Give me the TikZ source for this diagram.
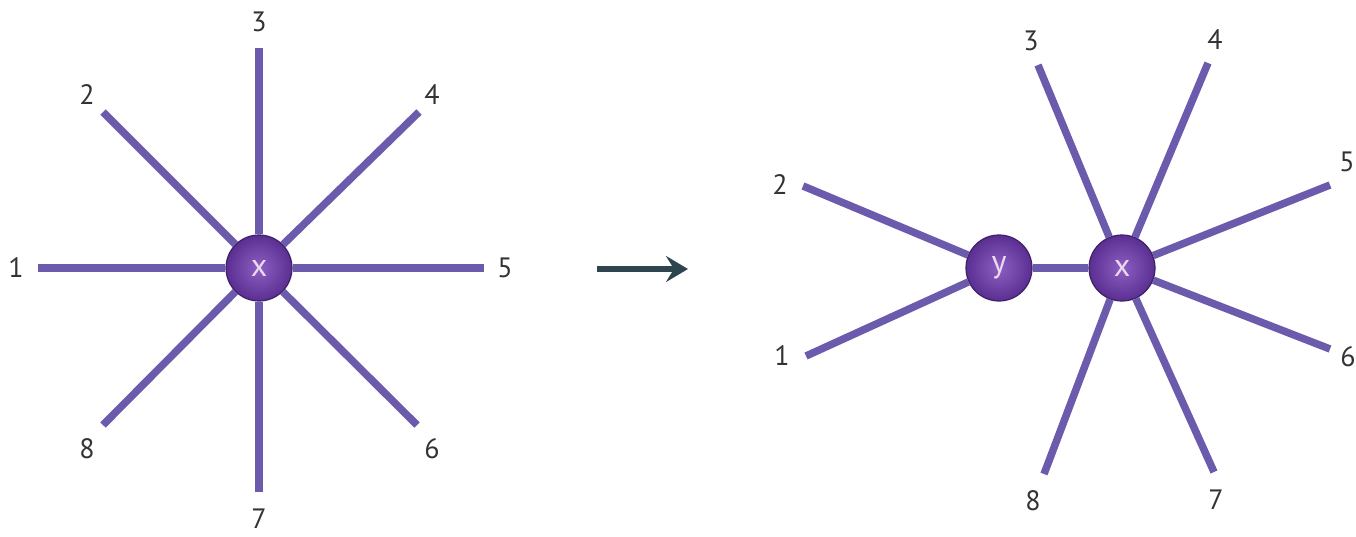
\documentclass[tikz,border=0pt]{standalone}
\usepackage{fontspec}
\setmainfont{PT Sans}
\usetikzlibrary{arrows.meta}
\definecolor{edgec}{HTML}{6C5BAC}
\definecolor{ballin}{HTML}{8C5FC4}
\definecolor{ballout}{HTML}{5B2E91}
\definecolor{balldraw}{HTML}{3E2168}
\definecolor{arrc}{HTML}{2E4550}
\definecolor{txtc}{HTML}{333333}
\tikzset{
  ball/.style={circle, minimum size=66pt, inner sep=0pt, draw=balldraw, line width=1.2pt,
     inner color=ballin, outer color=ballout, text=white!85!violet, font=\fontsize{32}{32}\selectfont},
  edge/.style={draw=edgec, line width=7.5pt},
  lbl/.style={text=txtc, font=\fontsize{28}{28}\selectfont, inner sep=0pt},
}
\begin{document}
\begin{tikzpicture}[x=1pt,y=-1pt]
\useasboundingbox (0,0) rectangle (1356,536);
% left star
\node[ball] (xa) at (259,268) {x};
\coordinate (a1) at (38,268);
\coordinate (a2) at (103,112);
\coordinate (a3) at (259,48);
\coordinate (a4) at (419,112);
\coordinate (a5) at (484,268);
\coordinate (a6) at (417,425);
\coordinate (a7) at (259,492);
\coordinate (a8) at (103,425);
\foreach \i in {1,...,8} \draw[edge] (xa) -- (a\i);
\node[lbl] (la1) at (16,268) {1};
\node[lbl] (la2) at (87,95) {2};
\node[lbl] (la3) at (259,22) {3};
\node[lbl] (la4) at (432,95) {4};
\node[lbl] (la5) at (505,268) {5};
\node[lbl] (la6) at (432,449) {6};
\node[lbl] (la7) at (259,519) {7};
\node[lbl] (la8) at (87,449) {8};
% arrow
\coordinate (ars) at (597,269);
\coordinate (are) at (688,269);
\draw[arrc, line width=6pt, -{Stealth[length=22pt,width=26pt,inset=8pt]}] (ars) -- (are);
% right
\node[ball] (yb) at (999,268) {y};
\node[ball] (xb) at (1122,268) {x};
\draw[edge] (yb) -- (xb);
\coordinate (b1) at (806,356);
\coordinate (b2) at (803,186);
\coordinate (b3) at (1038,65);
\coordinate (b4) at (1208,63);
\coordinate (b5) at (1330,185);
\coordinate (b6) at (1330,349);
\coordinate (b7) at (1214,472);
\coordinate (b8) at (1044,474);
\draw[edge] (yb) -- (b1);
\draw[edge] (yb) -- (b2);
\foreach \i in {3,...,8} \draw[edge] (xb) -- (b\i);
\node[lbl] (lb1) at (782,356) {1};
\node[lbl] (lb2) at (780,185) {2};
\node[lbl] (lb3) at (1031,41) {3};
\node[lbl] (lb4) at (1215,40) {4};
\node[lbl] (lb5) at (1347,162) {5};
\node[lbl] (lb6) at (1348,357) {6};
\node[lbl] (lb7) at (1216,500) {7};
\node[lbl] (lb8) at (1033,501) {8};
\end{tikzpicture}
\end{document}
